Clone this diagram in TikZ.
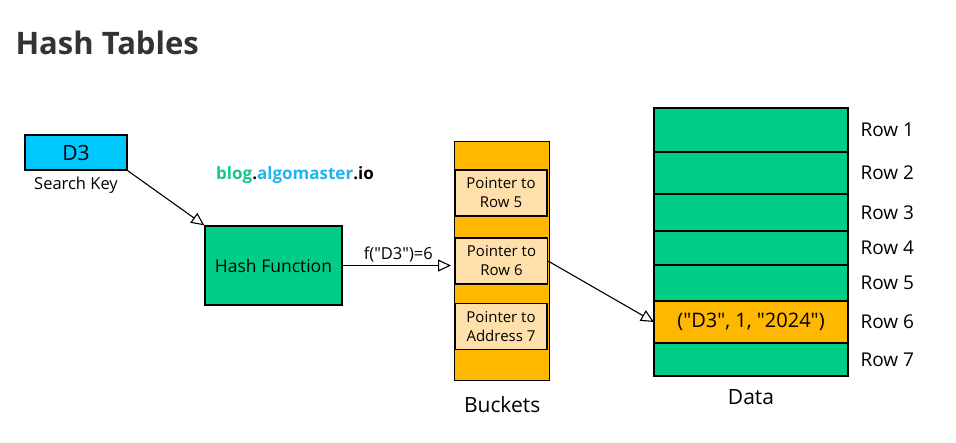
\documentclass[tikz,border=0pt]{standalone}
\usepackage{fontspec}
\setmainfont{Open Sans}[Ligatures=TeXOff]
\usetikzlibrary{positioning, arrows.meta}
\definecolor{keycyan}{RGB}{0,200,255}
\definecolor{hashgreen}{RGB}{0,206,134}
\definecolor{bucketorange}{RGB}{255,184,0}
\definecolor{ptrpeach}{RGB}{255,224,170}
\definecolor{titlegray}{RGB}{51,51,51}
\definecolor{brandgreen}{RGB}{24,200,130}
\definecolor{brandcyan}{RGB}{30,180,240}
\tikzset{
    keybox/.style={rectangle, draw=black, fill=keycyan, line width=1.3pt, minimum width=102pt, minimum height=35pt, font=\fontsize{21}{21}\selectfont},
    hashbox/.style={rectangle, draw=black, fill=hashgreen, line width=1.3pt, minimum width=137pt, minimum height=79pt, font=\fontsize{17.5}{17.5}\selectfont},
    bucketcol/.style={rectangle, draw=black, fill=bucketorange, line width=1.3pt, minimum width=95pt, minimum height=239pt, anchor=north west},
    ptrbox/.style={rectangle, draw=black, fill=ptrpeach, line width=1.1pt, minimum width=92pt, minimum height=46pt, inner sep=1pt, align=center, font=\fontsize{15}{19}\selectfont},
    datarow/.style={rectangle, draw=black, fill=hashgreen, line width=1.3pt, minimum width=194pt, inner sep=0pt, outer sep=0pt, font=\fontsize{20}{20}\selectfont},
    rowlbl/.style={font=\fontsize{19}{19}\selectfont},
    caplbl/.style={font=\fontsize{21}{21}\selectfont},
    openarr/.style={-{Triangle[open, length=13pt, width=12pt]}, line width=1.1pt, fill=white}
}
\begin{document}
\begin{tikzpicture}[x=1pt, y=-1pt]
    \useasboundingbox (0,0) rectangle (956,442);

    % Title and watermark
    \node[anchor=west, font=\bfseries\fontsize{31}{31}\selectfont, text=titlegray] (title) at (12,43) {Hash Tables};
    \node[font=\bfseries\fontsize{17}{17}\selectfont] (brand) at (295,175) {\textcolor{brandgreen}{blog}.\textcolor{brandcyan}{algomaster}.io};

    % Key and hash function
    \node[keybox] (key) at (76,152.5) {D3};
    \node[font=\fontsize{16.5}{16.5}\selectfont, below=3pt of key] (keylbl) {Search Key};
    \node[hashbox] (hash) at (273.5,265.5) {Hash Function};

    % Buckets
    \node[bucketcol] (buckets) at (454,141) {};
    \node[ptrbox] (p5) at (501,193) {Pointer to\\Row 5};
    \node[ptrbox] (p6) at (501.5,261) {Pointer to\\Row 6};
    \node[ptrbox] (p7) at (501,326.5) {Pointer to\\Address 7};
    \node[caplbl, below=12pt of buckets] (bucketlbl) {Buckets};

    % Data rows
    \node[datarow, minimum height=44pt, anchor=north west] (r1) at (654,108) {};
    \node[datarow, minimum height=42pt, below=0pt of r1] (r2) {};
    \node[datarow, minimum height=37pt, below=0pt of r2] (r3) {};
    \node[datarow, minimum height=34pt, below=0pt of r3] (r4) {};
    \node[datarow, minimum height=36pt, below=0pt of r4] (r5) {};
    \node[datarow, minimum height=42pt, below=0pt of r5, fill=bucketorange] (r6) {("D3", 1, "2024")};
    \node[datarow, minimum height=33pt, below=0pt of r6] (r7) {};
    \foreach \i in {1,...,7} \node[rowlbl, right=9pt of r\i] (l\i) {Row \i};
    \node[caplbl, below=10pt of r7] (datalbl) {Data};

    % Connectors
    \draw[openarr] (key.south east) -- (hash.north west);
    \draw[openarr, shorten >=3pt] (hash.east) -- node[above, font=\fontsize{16.5}{16.5}\selectfont] (flbl) {f("D3")=6} (hash.east -| buckets.west);
    \draw[openarr] (p6.east) -- (r6.west);
\end{tikzpicture}
\end{document}
